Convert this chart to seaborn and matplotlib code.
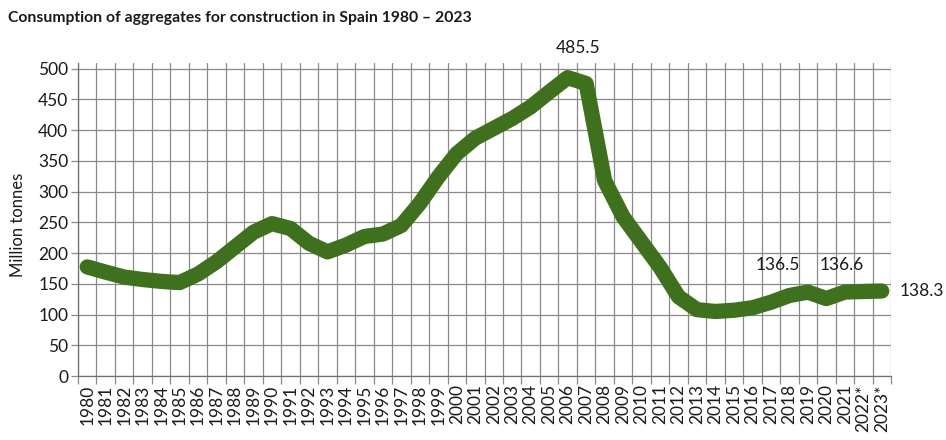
import matplotlib
matplotlib.use('Agg')
import numpy as np
import pandas as pd
import matplotlib.pyplot as plt
import seaborn as sns
from matplotlib.ticker import FixedLocator

# Data (million tonnes)
years = ['1980', '1981', '1982', '1983', '1984', '1985', '1986', '1987', '1988', '1989',
         '1990', '1991', '1992', '1993', '1994', '1995', '1996', '1997', '1998', '1999',
         '2000', '2001', '2002', '2003', '2004', '2005', '2006', '2007', '2008', '2009',
         '2010', '2011', '2012', '2013', '2014', '2015', '2016', '2017', '2018', '2019',
         '2020', '2021', '2022*', '2023*']
consumption = [177.5, 169, 161, 157, 154, 152, 166, 186, 210, 234,
               248, 240, 216, 202, 213, 227, 231, 245, 281, 324,
               362, 387, 403, 419, 438, 462, 485.5, 476, 318, 259,
               218, 177, 129, 108, 105, 107, 111, 120, 131, 136.5,
               126, 136.6, 137.5, 138.3]
label_years = ['2006', '2019', '2021', '2023*']
label_texts = ['485.5', '136.5', '136.6', '138.3']

df = pd.DataFrame({'year': years, 'pos': np.arange(len(years)), 'mt': consumption})

sns.set_style('white')
plt.rcParams['font.family'] = ['Lato', 'DejaVu Sans']

fig = plt.figure(figsize=(9.46, 4.40), dpi=100)
ax = fig.add_axes([78 / 946, 64 / 440, 813 / 946, 313.4 / 440])

line_color = '#3e701e'
sns.lineplot(data=df, x='pos', y='mt', color=line_color, linewidth=11, ax=ax)
ln = ax.lines[0]
ln.set_solid_capstyle('round')
ln.set_solid_joinstyle('round')
ln.set_clip_on(False)

ax.set_xlim(-0.5, len(years) - 0.5)
ax.set_ylim(0, 510)

grid_color = '#8a8a8a'
ax.set_xticks(df['pos'])
ax.set_xticklabels(years, rotation=90, fontsize=12.5, color='#1a1a1a')
ax.xaxis.set_minor_locator(FixedLocator(np.arange(-0.5, len(years), 1)))
ax.tick_params(axis='x', which='major', length=0, pad=6)
ax.tick_params(axis='x', which='minor', length=6, width=0.9, color=grid_color, bottom=True)
ax.grid(axis='x', which='minor', color=grid_color, linewidth=0.9)

ax.set_yticks(range(0, 501, 50))
ax.tick_params(axis='y', length=5, width=0.9, color=grid_color, left=True, pad=2,
               labelsize=12.5, labelcolor='#1a1a1a')
ax.grid(axis='y', which='major', color=grid_color, linewidth=0.9)
ax.set_axisbelow(True)

for side in ['top', 'right']:
    ax.spines[side].set_visible(False)
for side in ['left', 'bottom']:
    ax.spines[side].set_color('#707070')
    ax.spines[side].set_linewidth(0.9)

ax.set_xlabel('')
ax.set_ylabel('')

# value labels
offsets = {'2006': (10, 30, 'center'), '2019': (-30, 27, 'center'),
           '2021': (-3, 27, 'center'), '2023*': (18, 0, 'left')}
for yr, txt in zip(label_years, label_texts):
    row = df[df['year'] == yr].iloc[0]
    dx, dy, ha = offsets[yr]
    ax.annotate(txt, xy=(row['pos'], row['mt']), xytext=(dx, dy),
                textcoords='offset pixels', ha=ha, va='center',
                fontsize=12.5, color='#1a1a1a', annotation_clip=False)

fig.text(18 / 946, 1 - 224.7 / 440, 'Million tonnes', rotation=90,
         ha='center', va='center', fontsize=12, color='#1a1a1a')
fig.text(8 / 946, 1 - 18 / 440, 'Consumption of aggregates for construction in Spain 1980 \u2013 2023',
         ha='left', va='center', fontsize=11.3, fontweight='bold', color='#1a1a1a')

fig.savefig('out.png', dpi=100, facecolor='white')
